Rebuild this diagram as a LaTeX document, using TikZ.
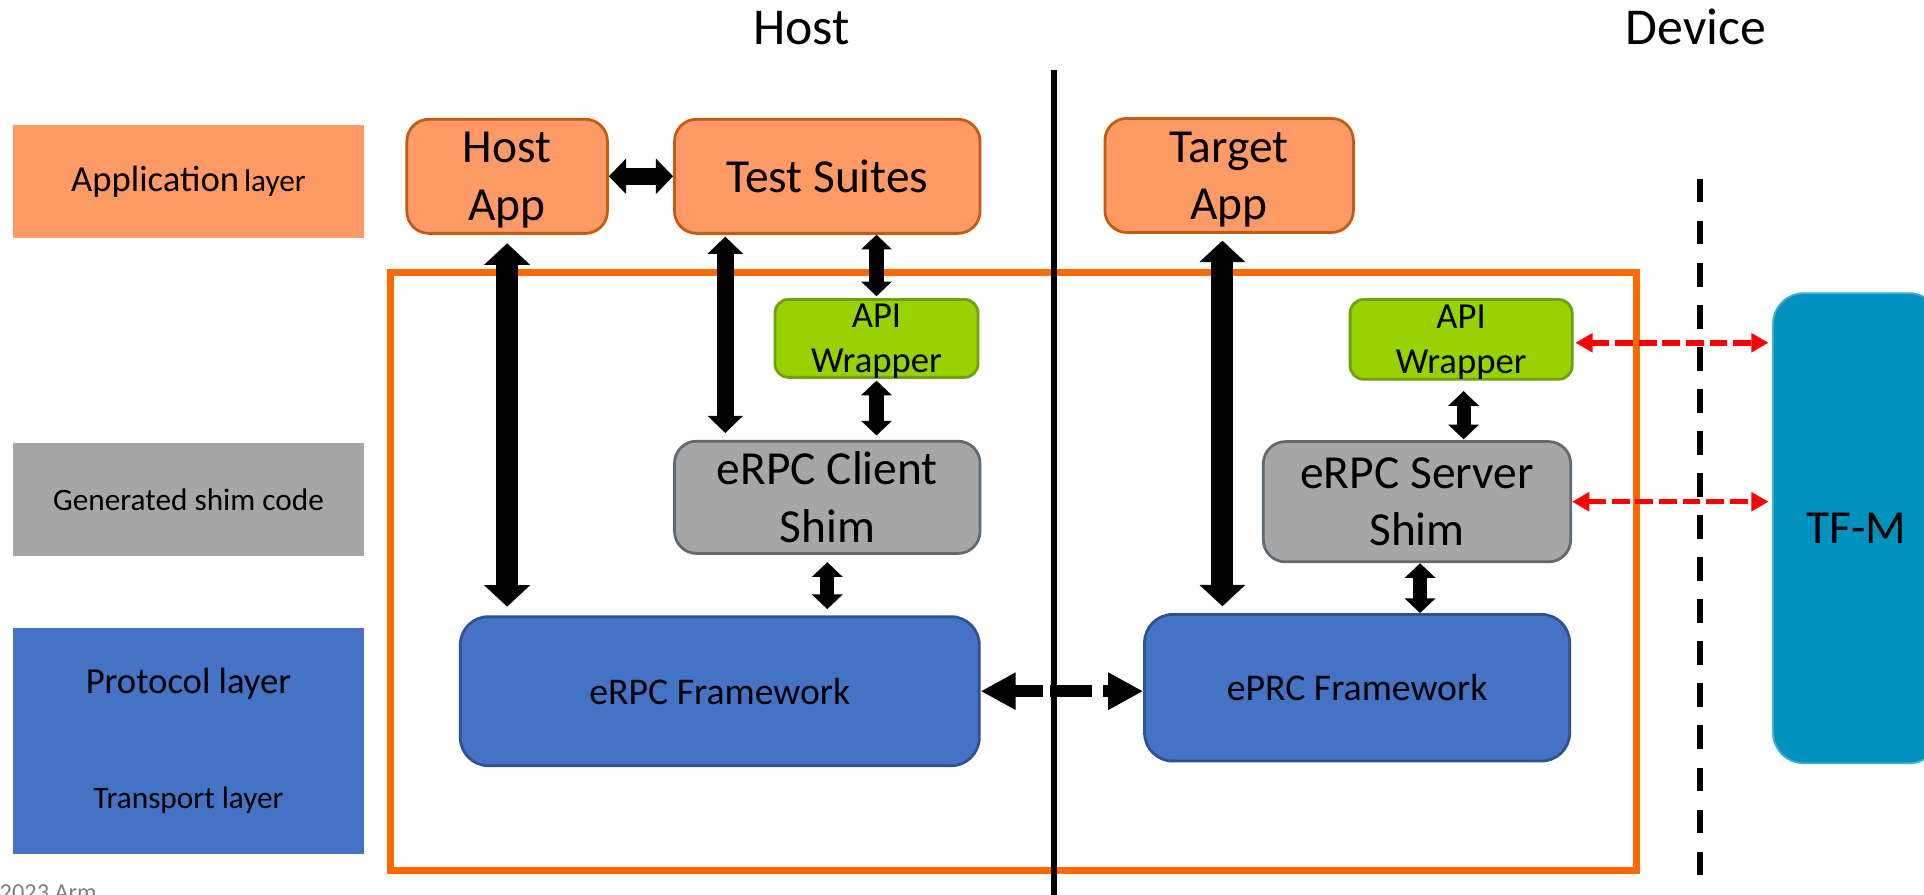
\documentclass[tikz,border=0pt]{standalone}
\usepackage{fontspec}
\setmainfont{Carlito}
\usetikzlibrary{arrows.meta}

\definecolor{appfill}{HTML}{FF9966}
\definecolor{appline}{HTML}{C55A11}
\definecolor{wrapfill}{HTML}{96D300}
\definecolor{wrapline}{HTML}{70A012}
\definecolor{shimfill}{HTML}{A6A6A6}
\definecolor{shimline}{HTML}{5F6A72}
\definecolor{protofill}{HTML}{4472C4}
\definecolor{protoline}{HTML}{2F528F}
\definecolor{tfmfill}{HTML}{0092BE}
\definecolor{shimorange}{HTML}{FF6A00}
\definecolor{footgray}{HTML}{808080}

\begin{document}
\begin{tikzpicture}[x=0.2mm, y=-0.2mm,
    appbox/.style={draw=appline, fill=appfill, line width=0.45mm, rounded corners=3.6mm,
        align=center, inner sep=0pt, font=\fontsize{22}{26.5}\selectfont},
    wrapbox/.style={draw=wrapline, fill=wrapfill, line width=0.45mm, rounded corners=2.2mm,
        align=center, inner sep=0pt, text depth=-0.8mm, font=\fontsize{17}{20.7}\selectfont},
    shimbox/.style={draw=shimline, fill=shimfill, line width=0.45mm, rounded corners=3.6mm,
        align=center, inner sep=0pt, text depth=-1mm, font=\fontsize{22}{26.7}\selectfont},
    protobox/.style={draw=protoline, fill=protofill, line width=0.45mm, rounded corners=4.6mm,
        inner sep=0pt, font=\fontsize{17.5}{21}\selectfont},
    tfmbox/.style={draw=tfmfill!75!white, fill=tfmfill, line width=0.3mm, rounded corners=5mm,
        inner sep=0pt, font=\fontsize{22}{26}\selectfont},
    layerbox/.style={minimum width=57.2mm, inner sep=0pt},
    sidetitle/.style={anchor=base, font=\fontsize{24}{28}\selectfont},
    bigarrow/.style={line width=3.6mm,
        {Triangle[length=3.5mm,width=7.3mm]}-{Triangle[length=3.5mm,width=7.3mm]}},
    midarrow/.style={line width=2.8mm,
        {Triangle[length=2.8mm,width=5.6mm]}-{Triangle[length=2.8mm,width=5.6mm]}},
    smallarrow/.style={line width=2.3mm,
        {Triangle[length=2.4mm,width=4.9mm]}-{Triangle[length=2.4mm,width=4.9mm]}},
    framelink/.style={line width=1.9mm, dash pattern=on 4.8mm off 1.2mm on 6.8mm off 1.8mm,
        {Triangle[length=5.7mm,width=5.7mm]}-{Triangle[length=5.7mm,width=5.7mm]}},
    tfmlink/.style={red, line width=0.9mm, dash pattern=on 2.9mm off 0.95mm,
        {Triangle[length=2.8mm,width=3mm]}-{Triangle[length=2.8mm,width=3mm]}}
]
\clip (0,0) rectangle (1568,729);

% layer legend on the left
\node[layerbox, fill=appfill, minimum height=18.4mm] (layapp) at (153.6,148)
    {{\fontsize{17}{20}\selectfont Application} {\fontsize{14.5}{17}\selectfont layer}};
\node[layerbox, fill=shimfill, minimum height=18.4mm, font=\fontsize{14.5}{17}\selectfont] (laygen)
    at (153.6,407) {Generated shim code};
\node[layerbox, fill=protofill, minimum height=36.8mm] (layproto) at (153.6,603.8) {};
\node[font=\fontsize{17}{20}\selectfont] (protolabel) at (153.6,557) {Protocol layer};
\node[font=\fontsize{14.5}{17}\selectfont] (translabel) at (153.6,652) {Transport layer};

% host / device
\node[sidetitle] (hosttitle) at (653,36) {Host};
\node[sidetitle] (devtitle) at (1382,36) {Device};

% test area and dividers
\draw[shimorange, line width=1.15mm] (318,222) rectangle (1333.6,709.5);
\draw[line width=0.9mm] (859,57) -- (859,735);
\draw[line width=1.1mm, dash pattern=on 3.8mm off 3.05mm] (1385.5,146) -- (1385.5,715);

% host side
\node[appbox, text depth=-0.5mm, minimum width=32.7mm, minimum height=18.6mm] (hostapp)
    at (413.3,143.7) {Host\\App};
\node[appbox, minimum width=49.8mm, minimum height=18.6mm] (suites) at (674.2,143.7) {Test Suites};
\node[wrapbox, minimum width=33.1mm, minimum height=12.7mm] (apil) at (714.3,275.8) {API\\Wrapper};
\node[shimbox, minimum width=49.8mm, minimum height=18.3mm] (cshim) at (674.2,405.3) {eRPC Client\\Shim};
\node[protobox, minimum width=84.6mm, minimum height=24.3mm] (fwl) at (586.6,563.3) {eRPC Framework};

% device side
\node[appbox, text depth=-0.5mm, minimum width=40.5mm, minimum height=18.6mm] (tapp)
    at (1001.7,143) {Target\\App};
\node[wrapbox, minimum width=36.2mm, minimum height=13mm] (apir) at (1190.8,276.6) {API\\Wrapper};
\node[shimbox, minimum width=50.1mm, minimum height=19.6mm] (sshim) at (1154.8,408.9) {eRPC Server\\Shim};
\node[protobox, minimum width=69.3mm, minimum height=23.9mm] (fwr) at (1106,560.5) {ePRC Framework};
\node[tfmbox, minimum width=27.2mm, minimum height=76.6mm] (tfm) at (1513,430.5) {TF-M};

\node[anchor=base east, text=footgray, font=\fontsize{11.3}{13}\selectfont] (foot)
    at (85,733.6) {\textcopyright{} 2023 Arm};

\coordinate (suitesx) at ([xshift=8.5mm]suites.south west);
\coordinate (tappx) at ([xshift=-1.1mm]tapp.south);
\coordinate (apirx) at ([xshift=0.4mm]apir.south);
\coordinate (sshimx) at ([xshift=0.5mm]sshim.south);
\coordinate (apirr) at ([yshift=-0.55mm]apir.east);

% connections
\draw[midarrow] (hostapp.east) -- (suites.west);
\draw[bigarrow, shorten <=1.4mm, shorten >=1.4mm] (hostapp.south) -- (hostapp.south |- fwl.north);
\draw[midarrow, shorten <=0.3mm, shorten >=1.1mm] (suitesx) -- (suitesx |- cshim.north);
\draw[smallarrow, shorten >=0.3mm] (apil.north |- suites.south) -- (apil.north);
\draw[smallarrow, shorten <=0.3mm, shorten >=0.7mm] (apil.south) -- (apil.south |- cshim.north);
\draw[smallarrow, shorten <=1.2mm, shorten >=1mm] (cshim.south) -- (cshim.south |- fwl.north);
\draw[bigarrow, shorten <=1.1mm, shorten >=1.1mm] (tappx) -- (tappx |- fwr.north);
\draw[smallarrow, shorten <=1.7mm, shorten >=0.15mm] (apirx) -- (apirx |- sshim.north);
\draw[smallarrow] (sshimx) -- (sshimx |- fwr.north);
\draw[framelink] (fwl.east) -- (fwl.east -| fwr.west);
\draw[tfmlink, shorten <=0.3mm, shorten >=0.6mm] (apirr) -- (apirr -| tfm.west);
\draw[tfmlink, shorten >=0.6mm] (sshim.east) -- (sshim.east -| tfm.west);
\end{tikzpicture}
\end{document}
